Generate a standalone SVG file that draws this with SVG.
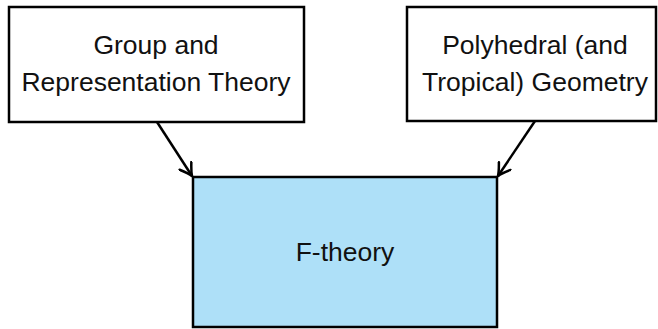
<svg xmlns="http://www.w3.org/2000/svg" width="658" height="329" viewBox="0 0 658 329">
<defs>
<style>
.box{fill:#ffffff;stroke:#000;stroke-width:2.5}
.main{fill:#aee0f8;stroke:#000;stroke-width:2.5}
.lbl{font-family:"Liberation Sans","DejaVu Sans",sans-serif;font-size:26.5px;fill:#111;text-anchor:middle}
.edge{fill:none;stroke:#000;stroke-width:2.5}
</style>
<marker id="arr" viewBox="-14 -8 16 16" refX="0" refY="0" markerWidth="16" markerHeight="16" markerUnits="userSpaceOnUse" orient="auto">
<path d="M-12,-7 Q-4,-1.5 0,0 Q-4,1.5 -12,7" fill="none" stroke="#000" stroke-width="2.5" stroke-linecap="round" stroke-linejoin="round"/>
</marker>
</defs>
<g id="connectors">
<path class="edge" d="M157,122 L192,176" marker-end="url(#arr)"/>
<path class="edge" d="M535,121 L498,176" marker-end="url(#arr)"/>
</g>
<g id="group">
<rect class="box" x="9" y="7" width="295" height="115"/>
<text class="lbl" x="156" y="54">Group and</text>
<text class="lbl" x="156" y="91">Representation Theory</text>
</g>
<g id="polyhedral">
<rect class="box" x="407" y="7" width="249" height="114"/>
<text class="lbl" x="535" y="54">Polyhedral (and</text>
<text class="lbl" x="535" y="91">Tropical) Geometry</text>
</g>
<g id="ftheory">
<rect class="main" x="193" y="177" width="304" height="150"/>
<text class="lbl" x="345" y="261">F-theory</text>
</g>
</svg>
